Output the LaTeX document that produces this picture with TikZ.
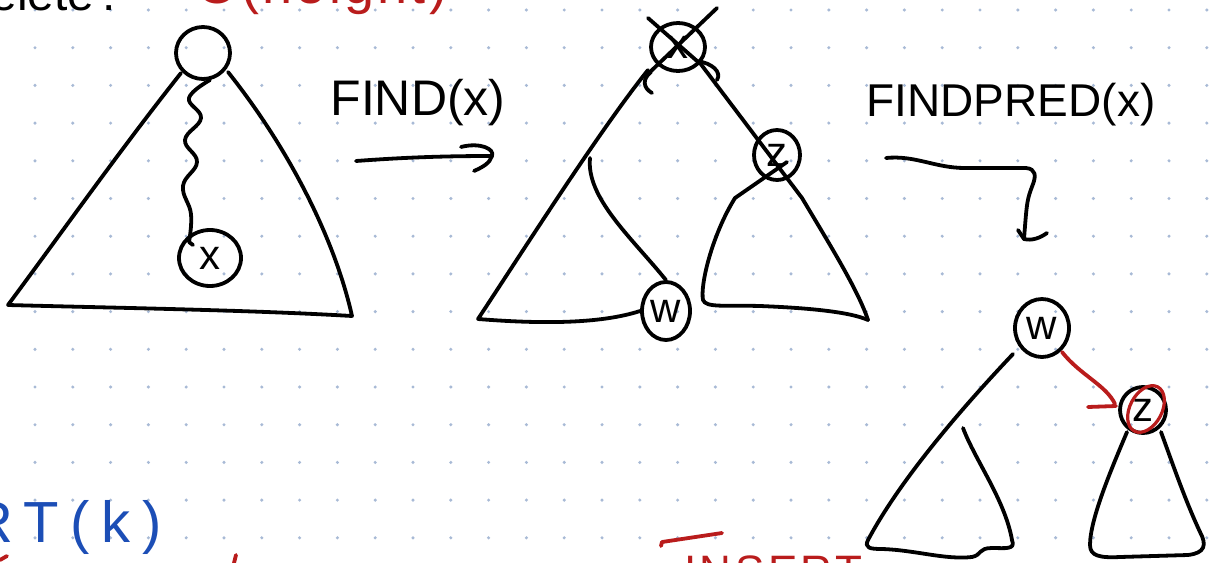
\documentclass[tikz,border=0pt]{standalone}
\usepackage{fontspec}
\setmainfont{Liberation Sans}
\usetikzlibrary{arrows.meta,shapes.geometric}
\definecolor{dotc}{RGB}{168,186,214}
\definecolor{redink}{RGB}{185,28,28}
\definecolor{blueink}{RGB}{28,78,182}
\tikzset{
  pen/.style={line width=3.8pt, line cap=round, line join=round, draw=black},
  redpen/.style={pen, draw=redink},
  bubble/.style={ellipse, draw=black, line width=3.8pt, inner sep=0pt, font=\fontsize{42}{42}\selectfont},
  lbl/.style={inner sep=0pt, font=\fontsize{48}{48}\selectfont},
}
\begin{document}
\begin{tikzpicture}[x=1pt,y=-1pt]
\path[use as bounding box] (0,0) rectangle (1212,562);
\clip (0,0) rectangle (1212,562);
\fill[white] (0,0) rectangle (1212,562);
\foreach \i in {0,...,31}{\foreach \j in {0,...,14}{\fill[dotc] ({35+37.8*\i},{10+37.7*\j}) circle (1.7pt);}}

% ---- partial header texts
\node[lbl, anchor=base east, font=\fontsize{48}{48}\selectfont] (hdr) at (116,10) {Delete\,:};
\node[lbl, anchor=base west, text=redink, font=\fontsize{54}{54}\selectfont\addfontfeature{LetterSpace=6}] (cost) at (196,3) {O(height)};

% ---- left tree
\node[bubble, minimum width=54pt, minimum height=52pt] (r1) at (203,53) {};
\node[bubble, minimum width=62pt, minimum height=56pt] (x1) at (210,258) {x};
\coordinate (a1) at (181,73);
\coordinate (b1) at (8,305);
\coordinate (c1) at (352,316);
\coordinate (d1) at (228,72);
\draw[pen] (a1) .. controls (120,150) and (60,235) .. (b1) .. controls (120,308) and (250,310) .. (c1)
  .. controls (335,240) and (290,150) .. (d1);
\coordinate (w1s) at (210,80);
\coordinate (w1e) at (189,242);
\draw[pen] plot[smooth, tension=0.7] coordinates {(w1s) (189,98) (201,118) (185,140) (197,162) (183,186) (191,214) (w1e)};
\draw[pen] (w1e) -- (193,245);

% ---- FIND(x)
\node[lbl, font=\fontsize{50}{50}\selectfont] (find) at (418,103) {FIND(x)};
\coordinate (fa) at (356,161);
\coordinate (fb) at (492,156);
\draw[pen] (fa) .. controls (410,157) and (450,156) .. (fb);
\draw[pen] (461,147) .. controls (480,142) and (495,149) .. (fb) .. controls (490,163) and (483,167) .. (474,171);

% ---- middle tree
\node[bubble, minimum width=54pt, minimum height=48pt] (x2) at (678,47) {x};
\draw[pen] (717,8) -- (650,72);
\draw[pen] (648,18) -- (697,61) .. controls (712,63) and (722,72) .. (717,80);
\draw[pen] (651,72) .. controls (642,79) and (643,88) .. (652,93);
\node[bubble, minimum width=46pt, minimum height=50pt] (z2) at (777,155) {z};
\node[bubble, minimum width=48pt, minimum height=58pt] (w2) at (666,311) {w};
\coordinate (m1) at (648,70);
\coordinate (m2) at (478,319);
\draw[pen] (m1) .. controls (600,130) and (530,240) .. (m2) .. controls (540,324) and (600,324) .. (w2.west);
\draw[pen] (700,63) -- (802,198) .. controls (830,245) and (858,290) .. (868,320);
\draw[pen] (787,162) -- (735,198) .. controls (712,235) and (700,285) .. (703,300)
  .. controls (706,308) and (725,305) .. (760,306) .. controls (810,308) and (850,312) .. (868,320);
\draw[pen] (590,158) .. controls (586,198) and (632,238) .. (w2.north);

% ---- FINDPRED(x)
\node[lbl, font=\fontsize{46}{46}\selectfont] (fpred) at (1011,105) {FINDPRED(x)};
\coordinate (pa) at (886,158);
\coordinate (pb) at (1024,239);
\draw[pen] (pa) .. controls (915,155) and (935,168) .. (965,168) -- (1026,168)
  .. controls (1036,169) and (1036,176) .. (1033,184) .. controls (1027,200) .. (pb);
\draw[pen] (1018,230) -- (pb) .. controls (1032,241) and (1040,238) .. (1047,233);

% ---- right tree
\node[bubble, minimum width=54pt, minimum height=58pt] (w3) at (1042,328) {w};
\node[bubble, minimum width=46pt, minimum height=46pt] (z3) at (1143,410) {z};
\node[ellipse, draw=redink, line width=3.2pt, minimum width=50pt, minimum height=32pt, inner sep=0pt, rotate=62] (rz) at (1146,409) {};
\draw[pen] (1013,354) .. controls (960,410) and (900,480) .. (868,540)
  .. controls (864,548) and (870,549) .. (882,549) .. controls (915,550) and (945,560) .. (972,557)
  .. controls (982,555) and (978,548) .. (992,548) .. controls (1005,548) and (1016,550) .. (1012,540)
  .. controls (1005,500) and (975,460) .. (963,428);
\draw[redpen] (1062,352) .. controls (1080,375) and (1106,385) .. (1115,404);
\draw[redpen] (1088,407) -- (1116,406);
\draw[pen] (1127,432) .. controls (1110,472) and (1090,520) .. (1090,545) .. controls (1090,556) and (1100,558) .. (1120,557)
  -- (1188,555) .. controls (1205,553) and (1207,545) .. (1200,532) .. controls (1185,500) and (1172,462) .. (1161,432);

% ---- bottom partial texts
\node[lbl, anchor=base east, text=blueink, font=\fontsize{58}{58}\selectfont\addfontfeature{LetterSpace=20}] (ins) at (162,542) {INSERT(k)};
\draw[redpen] (0,560) -- (7,556);
\draw[redpen] (236,555) -- (234,563);
\draw[redpen] (661,546) -- (662,542) -- (722,533);
\node[anchor=north west, inner sep=0pt, text=redink, font=\fontsize{44}{44}\selectfont\addfontfeature{LetterSpace=8}] (ins2) at (684,556) {INSERT};
\end{tikzpicture}
\end{document}
